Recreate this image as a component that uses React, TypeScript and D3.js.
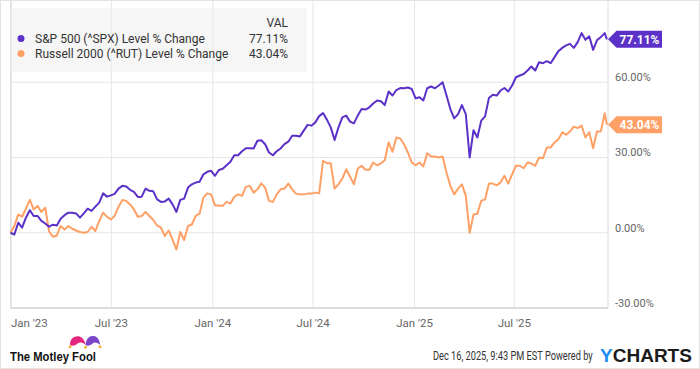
import { useEffect, useLayoutEffect, useRef, useState } from "react";
import * as d3 from "d3";

// weekly closes, % change since Dec 30 2022 (last point is Dec 16 2025)
const startDate = new Date(2022, 11, 30);
const lastDate = new Date(2025, 11, 16);

const spxValues = [
  0, -0.7, 4, 2, 6, 9, 6.7, 6.7, 4.7, 3.7,
  2.4, 3.2, 2.9, 5.6, 7, 8, 8, 7.7, 6, 7.7,
  9.6, 8.7, 10.4, 12, 15.7, 14.4, 14.9, 15.5, 17.6, 18.7,
  18.4, 17.1, 16.3, 14.3, 14.4, 17.6, 16.7, 16.5, 13.3, 12.3,
  12.5, 13.6, 11.3, 8.3, 13.1, 13.6, 18, 19.3, 20, 20.3,
  23.3, 24.3, 24.7, 22.7, 25, 25.5, 26.9, 28.3, 30.9, 30.9,
  32.5, 33.7, 33.7, 33.6, 36.7, 36.9, 35.3, 32, 30.9, 32.5,
  33.6, 35.3, 36.3, 38.7, 38.7, 38.4, 40.7, 43, 42.7, 44,
  46.5, 47.7, 45.1, 42, 37, 42, 46, 46.7, 44.3, 43.6,
  46.7, 49.3, 49.1, 50, 51.5, 52.7, 52.4, 50.9, 56.3, 54.7,
  56.9, 57.7, 57.6, 57.9, 57.3, 53.6, 54, 52.7, 57.6, 58.3,
  57.6, 58.7, 60, 54.7, 49.3, 45.6, 47.3, 50.9, 47.3, 30,
  40.9, 38, 44.7, 46.4, 53.7, 55, 54.7, 56.7, 57.7, 56.3,
  58.7, 62, 62.7, 63.3, 64.7, 66.3, 64.7, 68, 67.6, 68.4,
  67.6, 70, 72.4, 73.7, 74.7, 75.3, 73.7, 76, 79.6, 76.9,
  78.3, 72.9, 76.7, 78, 79.6, 77.11,
];

const rutValues = [
  0, 2.7, 7.3, 6.4, 9.6, 13.1, 9.3, 10.7, 8.3, 10,
  0.5, -1.6, -1.1, 2.7, 1.3, 2.7, 1.6, 0.9, 0.3, 0,
  0.3, 2.4, 0.7, 4.7, 8, 6.4, 5.3, 6.7, 10.4, 13.1,
  12.7, 11.3, 9.3, 6.4, 6.7, 8.3, 6.7, 5.1, 2.9, 2,
  -1.3, 0.9, -2.7, -6.7, 0.3, -2.9, 2.7, 3.3, 6.7, 7.6,
  14, 15.7, 15.3, 10.9, 10.9, 10.7, 12.3, 11.7, 14.3, 15.3,
  14.7, 18.3, 18.7, 16, 17.3, 19.7, 18, 12.7, 12.3, 15.3,
  17.3, 17.6, 19.6, 17.3, 15.6, 15.3, 15.3, 15.6, 15.6, 16,
  15.7, 28.7, 27.7, 27.7, 17.6, 19.3, 21.6, 25.3, 22.4, 19.3,
  25.6, 26.7, 25.1, 25.1, 28, 26.9, 27.7, 28.9, 36, 32.3,
  38, 37.6, 35.3, 32, 28, 26.9, 28, 26.4, 31.7, 30.4,
  30.4, 30, 30.4, 24, 18.7, 15.3, 17.6, 19.3, 14.7, 0,
  7.3, 7.6, 12.7, 13.3, 19.6, 19.6, 18.9, 20, 22.7, 19.6,
  23.3, 26.7, 26.7, 25.7, 28, 27.6, 26.7, 30, 29.7, 34,
  34, 36, 37.3, 40, 39.1, 40.4, 42.3, 41.7, 42.7, 38,
  40, 33.7, 40.4, 40.4, 47.6, 43.04,
];

const seriesNames = [
  "S&P 500 (^SPX) Level % Change",
  "Russell 2000 (^RUT) Level % Change",
];
const seriesColors = ["#5b31c8", "#ffa066"];

const yTicks = [-30, 0, 30, 60];
const xTickDates = [
  new Date(2023, 0, 1),
  new Date(2023, 6, 1),
  new Date(2024, 0, 1),
  new Date(2024, 6, 1),
  new Date(2025, 0, 1),
  new Date(2025, 6, 1),
];
const xTickLabels = ["Jan '23", "Jul '23", "Jan '24", "Jul '24", "Jan '25", "Jul '25"];

const W = 700;
const H = 369;
const left = 10.5;
const right = 608;
const top = 8;
const bottom = 308;

const font = "Roboto, 'Noto Sans', sans-serif";

// text squeezed horizontally to a given width (condensed look)
function FitText({ x, y, width, children, ...rest }: any) {
  const ref = useRef<SVGTextElement>(null);
  const [k, setK] = useState(1);
  useLayoutEffect(() => {
    if (!ref.current) return;
    const w = ref.current.getComputedTextLength();
    if (w > 0) setK(width / w);
  }, [width]);
  return (
    <text ref={ref} transform={`translate(${x},${y}) scale(${k},1)`} {...rest}>
      {children}
    </text>
  );
}

function App() {
  useEffect(() => {
    document.body.style.margin = "0";
  }, []);

  const dates = spxValues.map((_, i) =>
    i === spxValues.length - 1 ? lastDate : d3.timeDay.offset(startDate, 7 * i)
  );

  const x = d3
    .scaleTime()
    .domain([new Date(2022, 11, 30), new Date(2025, 11, 18)])
    .range([left, right]);
  const y = d3.scaleLinear().domain([-30, 89.6]).range([bottom, top]);

  const line = d3
    .line<number>()
    .x((_, i) => x(dates[i]))
    .y((d) => y(d));

  const series = [spxValues, rutValues];

  return (
    <svg width={W} height={H} style={{ display: "block", fontFamily: font }}>
      <rect x={0.5} y={0.5} width={W - 1} height={H - 1} fill="#fff" stroke="#e3e3e3" />

      {/* grid */}
      {yTicks.map((t) => (
        <line key={t} x1={left} x2={right} y1={y(t)} y2={y(t)} stroke="#e6e6e6" strokeWidth={1} />
      ))}
      {xTickDates.map((d, i) => (
        <line key={i} x1={x(d)} x2={x(d)} y1={1} y2={bottom} stroke="#e6e6e6" strokeWidth={1} />
      ))}
      <line x1={left} x2={left} y1={1} y2={bottom} stroke="#e0e0e0" />
      <line x1={right} x2={right} y1={1} y2={bottom} stroke="#dcdcdc" />
      <line x1={left} x2={right} y1={bottom} y2={bottom} stroke="#dcdcdc" strokeWidth={2} />

      {/* legend */}
      <rect x={left} y={8} width={296} height={64} fill="#eeeeee" fillOpacity={0.55} />
      <text x={288} y={27} textAnchor="end" fontSize={12} fill="#333">VAL</text>
      {seriesNames.map((name, i) => {
        const vals = series[i];
        return (
          <g key={name}>
            <circle cx={21} cy={38.5 + i * 15} r={3.5} fill={seriesColors[i]} />
            <text x={35} y={42.5 + i * 15} fontSize={12} fill="#333">{name}</text>
            <text x={288} y={42.5 + i * 15} fontSize={12} fill="#333" textAnchor="end">
              {vals[vals.length - 1].toFixed(2)}%
            </text>
          </g>
        );
      })}

      {/* lines */}
      {[1, 0].map((i) => (
        <path
          key={i}
          d={line(series[i]) || ""}
          fill="none"
          stroke={seriesColors[i]}
          strokeWidth={2}
          strokeLinejoin="round"
        />
      ))}

      {/* y axis labels */}
      {yTicks.map((t) => (
        <text key={t} x={615} y={y(t) - 1} fontSize={11} fill="#666">
          {t.toFixed(2)}%
        </text>
      ))}

      {/* end value flags */}
      {series.map((vals, i) => {
        const v = vals[vals.length - 1];
        const cy = y(v);
        const pts = [
          [right, cy],
          [616.5, cy - 8.5],
          [662, cy - 8.5],
          [662, cy + 8.5],
          [616.5, cy + 8.5],
        ]
          .map((p) => p.join(","))
          .join(" ");
        return (
          <g key={i}>
            <polygon points={pts} fill={seriesColors[i]} />
            <text x={639.5} y={cy + 4.2} fontSize={12} fontWeight="bold" fill="#fff" textAnchor="middle">
              {v.toFixed(2)}%
            </text>
          </g>
        );
      })}

      {/* x axis labels */}
      {xTickDates.map((d, i) => (
        <text
          key={i}
          x={i === 0 ? 11 : x(d)}
          y={327}
          fontSize={11.5}
          fill="#666"
          textAnchor={i === 0 ? "start" : "middle"}
        >
          {xTickLabels[i]}
        </text>
      ))}

      {/* footer: motley fool */}
      <g>
        <path d="M70,345 C70,338 75,335.5 79.5,336.5 C83,337.5 85,341 85.5,345 C84,342.5 80,341.5 77.5,343.5 C75.5,345.5 73,346.5 70,345 Z" fill="#e5267f" />
        <path d="M85.5,345 C86,339 89,335.5 93.5,336 C98,336.5 100,341 100,345 C98,342.5 94.5,341.5 92.5,343.5 C90.5,345.5 88,346.5 85.5,345 Z" fill="#7b45c9" />
        <circle cx={70} cy={346.8} r={1.5} fill="#f2b233" />
        <circle cx={85.5} cy={347.2} r={1.5} fill="#f2b233" />
        <circle cx={100} cy={346.8} r={1.5} fill="#f2b233" />
        <FitText
          x={10}
          y={361}
          width={86}
          fontSize={12.5}
          fontWeight="bold"
          fill="#111"
          fontFamily="'Liberation Sans', Arial, sans-serif"
        >
          The Motley Fool
        </FitText>
      </g>

      {/* footer: ycharts */}
      <FitText x={433} y={360} width={160} fontSize={12} fill="#333">
        Dec 16, 2025, 9:43 PM EST Powered by
      </FitText>
      <FitText
        x={600}
        y={362}
        width={92}
        fontSize={17.5}
        fontWeight="bold"
        fill="#1b1b1b"
        fontFamily="'Liberation Sans', Arial, sans-serif"
      >
        <tspan fill="#1d8ef0">Y</tspan>
        <tspan>CHARTS</tspan>
      </FitText>
    </svg>
  );
}

export default App;
